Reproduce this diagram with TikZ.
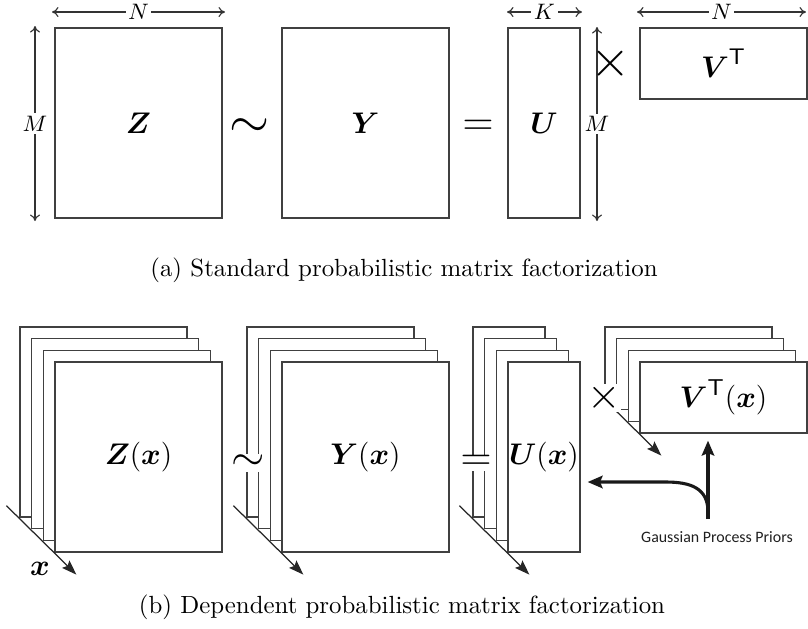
\documentclass[tikz,border=0pt]{standalone}
\usepackage{amsmath,amssymb}
\usepackage{fontspec}
\newfontfamily\gpfont{Carlito}
\usetikzlibrary{arrows.meta,calc}
\newcommand\pxu{0.4024pt}
\begin{document}
\begin{tikzpicture}[x=0.4024pt,y=-0.4024pt,
  mat/.style={draw=black!75, line width=0.5pt, fill=white, inner sep=0pt, rectangle},
  bigbox/.style={mat, minimum width=167*\pxu, minimum height=190*\pxu},
  thinbox/.style={mat, minimum width=72*\pxu, minimum height=190*\pxu},
  widebox/.style={mat, minimum width=167*\pxu, minimum height=71*\pxu},
  lab/.style={font=\fontsize{13}{15}\selectfont},
  labb/.style={font=\fontsize{13.2}{15}\selectfont},
  dim/.style={{To[length=2.6pt,width=4pt]}-{To[length=2.6pt,width=4pt]}, line width=0.45pt, draw=black!80},
  dimlab/.style={fill=white, inner sep=1pt, font=\fontsize{9}{11}\selectfont},
  sym/.style={fill=white, inner sep=0.3pt},
  diag/.style={line width=0.5pt, draw=black!85, -{Stealth[length=6pt,width=4.2pt,inset=1pt]}},
  gparrow/.style={line width=1.25pt, draw=black!90, -{Stealth[length=6pt,width=5pt,inset=1pt]}},
  captext/.style={font=\fontsize{10}{12}\selectfont}]
\useasboundingbox (0,0) rectangle (808,628);

% ---------------- (a) ----------------
\node[bigbox] (Z) at (138.5,123) {};
\node[lab] (Zl) at (Z.center) {$\boldsymbol{Z}$};
\node[bigbox] (Y) at (365.5,123) {};
\node[lab] (Yl) at (Y.center) {$\boldsymbol{Y}$};
\node[thinbox] (U) at (544,123) {};
\node[lab] (Ul) at (U.center) {$\boldsymbol{U}$};
\node[widebox] (V) at (723.5,63.5) {};
\node[lab] (Vl) at (V.center) {$\boldsymbol{V}^{\mathsf{T}}$};

% dimension arrows
\coordinate (nA1) at (52,12);  \coordinate (nB1) at (225,12);
\draw[dim] (nA1) -- node[dimlab] (nL1) {$N$} (nB1);
\coordinate (mA1) at (35,26);  \coordinate (mB1) at (35,221);
\draw[dim] (mA1) -- node[dimlab] (mL1) {$M$} (mB1);
\coordinate (kA) at (507,12);  \coordinate (kB) at (582,12);
\draw[dim] (kA) -- node[dimlab] (kL) {$K$} (kB);
\coordinate (mA2) at (597,27);  \coordinate (mB2) at (597,221);
\draw[dim] (mA2) -- node[dimlab] (mL2) {$M$} (mB2);
\coordinate (nA2) at (637,12);  \coordinate (nB2) at (806,12);
\draw[dim] (nA2) -- node[dimlab] (nL2) {$N$} (nB2);

% operators
\node[sym, font=\fontsize{20.5}{22}\selectfont] (sim1) at (250,128) {$\sim$};
\node[sym, font=\fontsize{19}{21}\selectfont] (eq1) at (478,128) {$=$};
\node[font=\fontsize{20}{22}\selectfont, inner sep=0pt] (tm1) at (611,64) {$\times$};

\node[captext] (capa) at (404,270) {(a) Standard probabilistic matrix factorization};

% ---------------- (b) ----------------
% Z stack
\foreach \k in {0,1,2} {
  \node[bigbox] (Zb\k) at ({138.5-35+11.67*\k},{457-35+11.67*\k}) {};
}
\node[bigbox] (Zf) at (138.5,457) {};
\node[labb] (Zfl) at (Zf.center) {$\boldsymbol{Z}(\boldsymbol{x})$};
\coordinate (Zs) at ($(Zb0.south west)+(-13,-12)$);
\coordinate (Ze) at ($(Zf.south west)+(22,22)$);
\draw[diag] (Zs) -- (Ze);
\node[labb] (xl) at (40,569) {$\boldsymbol{x}$};

% Y stack
\foreach \k in {0,1,2} {
  \node[bigbox] (Yb\k) at ({365.5-35+11.67*\k},{457-35+11.67*\k}) {};
}
\node[bigbox] (Yf) at (365.5,457) {};
\node[labb] (Yfl) at (Yf.center) {$\boldsymbol{Y}(\boldsymbol{x})$};
\coordinate (Ys) at ($(Yb0.south west)+(-13,-12)$);
\coordinate (Ye) at ($(Yf.south west)+(22,22)$);
\draw[diag] (Ys) -- (Ye);

% U stack
\foreach \k in {0,1,2} {
  \node[thinbox] (Ub\k) at ({544-35+11.67*\k},{457-35+11.67*\k}) {};
}
\node[thinbox] (Uf) at (544,457) {};
\node[labb] (Ufl) at (Uf.center) {$\boldsymbol{U}(\boldsymbol{x})$};
\coordinate (Us) at ($(Ub0.south west)+(-13,-12)$);
\coordinate (Ue) at ($(Uf.south west)+(22,22)$);
\draw[diag] (Us) -- (Ue);

% V stack
\foreach \k in {0,1,2} {
  \node[widebox] (Vb\k) at ({723.5-35+11.67*\k},{397.5-35+11.67*\k}) {};
}
\node[widebox] (Vf) at (723.5,397.5) {};
\node[labb] (Vfl) at (Vf.center) {$\boldsymbol{V}^{\mathsf{T}}(\boldsymbol{x})$};
\coordinate (Vs) at ($(Vb0.south west)+(-13,-12)$);
\coordinate (Ve) at ($(Vf.south west)+(22,22)$);
\draw[diag] (Vs) -- (Ve);

% operators
\node[sym, font=\fontsize{17}{19}\selectfont] (sim2) at (248,463) {$\sim$};
\node[sym, font=\fontsize{19}{21}\selectfont] (eq2) at (476,463) {$=$};
\node[sym, font=\fontsize{19}{21}\selectfont, inner sep=0pt] (tm2) at (604,398) {$\times$};

% Gaussian process priors
\node[font=\gpfont\fontsize{6.4}{8}\selectfont, text=black!88, inner sep=1pt] (gp) at (717,537) {Gaussian Process Priors};
\coordinate (gpv) at (708,519);
\draw[gparrow, shorten >=7*\pxu] (gpv) -- (gpv |- Vf.south);
\coordinate (gpc) at (708,512);
\coordinate (uin) at ($(Uf.east)+(7,25)$);
\coordinate (bend) at ($(uin)+(78,0)$);
\draw[gparrow] (gpc) .. controls +(0,-24) and +(25,0) .. (bend) -- (uin);

\node[captext] (capb) at (402,607) {(b) Dependent probabilistic matrix factorization};
\end{tikzpicture}
\end{document}
